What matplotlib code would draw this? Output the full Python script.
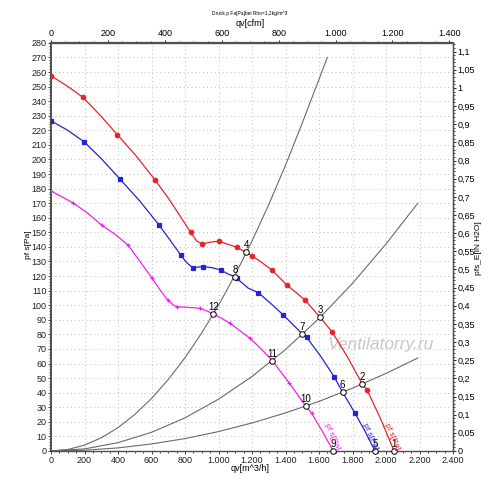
import matplotlib
matplotlib.use("Agg")
import matplotlib.pyplot as plt
from matplotlib.ticker import MultipleLocator, FixedLocator, FuncFormatter

plt.rcParams['font.family'] = ['Liberation Sans', 'DejaVu Sans']

# fan curves (q in m^3/h, p in Pa)
red_q = [0, 95, 189, 292, 396, 508, 621, 700, 766, 834, 870, 903, 949, 1003, 1053, 1108,
         1166, 1198, 1244, 1318, 1407, 1516, 1606, 1679, 1770, 1859, 1887, 1968, 2048]
red_p = [257.4, 250.5, 242.8, 230.5, 217, 202.5, 186, 173.5, 162, 150, 144, 142, 143.2, 144,
         141.9, 139.8, 136.2, 134, 130.5, 124.2, 114, 103.6, 91.8, 81.5, 64.5, 45.8, 41.9, 22, 0]
red_mq = [0, 189, 396, 621, 834, 903, 1003, 1108, 1198, 1318, 1407, 1516, 1679, 1887]
red_mp = [257.4, 242.8, 217, 186, 150, 142, 144, 139.8, 134, 124.2, 114, 103.6, 81.5, 41.9]

blue_q = [0, 100, 199, 305, 412, 530, 645, 710, 774, 810, 846, 905, 959, 1013, 1059, 1099,
          1108, 1178, 1238, 1312, 1387, 1500, 1526, 1610, 1690, 1741, 1813, 1875, 1934]
blue_p = [226.5, 220, 212, 200, 186.5, 171.5, 155, 144.8, 134.5, 129.2, 125.8, 126.5, 125.8,
          124.2, 121.3, 119.6, 118.5, 111.7, 108.6, 101.2, 93.3, 80.3, 78, 65, 51, 40.3, 26.3, 13.5, 0]
blue_mq = [0, 199, 412, 645, 774, 846, 905, 1013, 1108, 1238, 1387, 1526, 1690, 1813]
blue_mp = [226.5, 212, 186.5, 155, 134.5, 125.8, 126.5, 124.2, 118.5, 108.6, 93.3, 78, 51, 26.3]

mag_q = [0, 129, 215, 302, 385, 462, 531, 601, 651, 696, 730, 750, 810, 890, 930, 969, 1019,
         1069, 1128, 1188, 1255, 1321, 1423, 1520, 1556, 1620, 1685]
mag_p = [178.4, 170.4, 163.5, 155, 148.5, 141, 130, 119, 110.5, 103.6, 100.2, 99, 98.6, 97.9,
         96.1, 94, 91, 87.6, 82.5, 77.3, 70, 62, 46.5, 30.9, 25.9, 13.5, 0]
mag_mq = [0, 129, 302, 462, 601, 696, 750, 890, 1069, 1188, 1423, 1556]
mag_mp = [178.4, 170.4, 155, 141, 119, 103.6, 99, 97.9, 87.6, 77.3, 46.5, 25.9]

# system curves
sysA_q = [0, 100, 200, 300, 400, 500, 600, 700, 800, 900, 1000, 1100, 1200, 1300, 1400, 1500, 1650]
sysA_p = [0, 1, 4, 9, 16, 25, 36, 49, 64, 81, 100, 121, 144, 169, 196, 225, 270]
sysB_q = [0, 200, 400, 600, 800, 1000, 1200, 1400, 1600, 1800, 2000, 2190]
sysB_p = [0, 1.4, 5.7, 12.8, 22.7, 35.5, 51.1, 69.6, 90.9, 115, 142, 170]
sysC_p = [0, 0.5, 2.1, 4.8, 8.5, 13.3, 19.2, 26.1, 34, 43.1, 53.2, 63.8]

# operating points
op_q = [2048, 1859, 1606, 1166, 1934, 1741, 1500, 1099, 1685, 1520, 1321, 969]
op_p = [0, 45.8, 91.8, 136.2, 0, 40.3, 80.3, 119.6, 0, 30.9, 62, 94]
op_labels = ['1', '2', '3', '4', '5', '6', '7', '8', '9', '10', '11', '12']

cfm_ticks = [0, 200, 400, 600, 800, 1000, 1200, 1400]

RED = '#e8232b'
BLUE = '#2323d8'
MAG = '#ee22ee'
GRAY = '#6a6a6a'


def dotted_thousands(v, _):
    return f'{int(round(v)):,}'.replace(',', '.')


def comma_decimal(v, _):
    return (f'{v:.2f}'.rstrip('0').rstrip('.')).replace('.', ',')


fig = plt.figure(figsize=(5.0, 4.87), dpi=100)
ax = fig.add_axes([0.102, 0.074, 0.804, 0.838])
ax.set_xlim(0, 2400)
ax.set_ylim(0, 280)

for q, p in [(sysA_q, sysA_p), (sysB_q, sysB_p), (sysB_q, sysC_p)]:
    ax.plot(q, p, color=GRAY, lw=0.8, zorder=2)

for q, p, mq, mp, col, mk in [(red_q, red_p, red_mq, red_mp, RED, 'o'),
                              (blue_q, blue_p, blue_mq, blue_mp, BLUE, 's'),
                              (mag_q, mag_p, mag_mq, mag_mp, MAG, '+')]:
    ax.plot(q, p, color=col, lw=0.9, zorder=3)
    ax.plot(mq, mp, ls='none', marker=mk, ms=3.2, color=col, mew=0.9, zorder=4)

ax.plot(op_q, op_p, ls='none', marker='o', ms=4, mfc='white', mec='black',
        mew=0.7, zorder=5, clip_on=False)
for q, p, t in zip(op_q, op_p, op_labels):
    ax.annotate(t, (q, p), xytext=(0, 1.5), textcoords='offset points',
                ha='center', va='bottom', fontsize=7, zorder=6)

# curve labels near the bottom
for q, col in [(2036, RED), (1904, BLUE), (1678, MAG)]:
    ax.text(q, 10, 'pf s[Pa]', color=col, fontsize=6, rotation=-66,
            ha='center', va='center', zorder=6)

ax.text(0.82, 0.262, 'Ventilatorry.ru', transform=ax.transAxes, fontsize=12.5,
        style='italic', color='#c8c8c8', ha='center', va='center', zorder=1)

ax.xaxis.set_major_locator(MultipleLocator(200))
ax.xaxis.set_minor_locator(MultipleLocator(50))
ax.yaxis.set_major_locator(MultipleLocator(10))
ax.yaxis.set_minor_locator(MultipleLocator(2))
ax.xaxis.set_major_formatter(FuncFormatter(dotted_thousands))
ax.grid(True, which='major', color='#bdbdbd', ls=(0, (1, 3)), lw=0.7)
ax.tick_params(labelsize=6.5, length=2.5, width=0.6, colors='#202020', pad=0.8)
ax.tick_params(which='minor', length=1.5, width=0.5)

for s in ax.spines.values():
    s.set_color('#505050')
    s.set_linewidth(1.0)
ax.spines['top'].set_linewidth(1.6)
ax.spines['left'].set_linewidth(1.4)

top = ax.secondary_xaxis('top', functions=(lambda x: x / 1.699, lambda x: x * 1.699))
top.xaxis.set_major_locator(FixedLocator(cfm_ticks))
top.xaxis.set_minor_locator(FixedLocator(list(range(0, 1401, 50))))
top.xaxis.set_major_formatter(FuncFormatter(dotted_thousands))
top.tick_params(labelsize=6.5, length=2.5, width=0.6, pad=0.8)
top.tick_params(which='minor', length=1.5, width=0.5)

right = ax.secondary_yaxis('right', functions=(lambda y: y / 249.09, lambda y: y * 249.09))
right.yaxis.set_major_locator(FixedLocator([i * 0.05 for i in range(23)]))
right.yaxis.set_minor_locator(FixedLocator([i * 0.01 for i in range(113)]))
right.yaxis.set_major_formatter(FuncFormatter(comma_decimal))
right.tick_params(labelsize=6.5, length=2.5, width=0.6, pad=0.8)
right.tick_params(which='minor', length=1.5, width=0.5)

fig.text(0.5, 0.038, 'qv[m^3/h]', ha='center', va='center', fontsize=6.5)
fig.text(0.5, 0.951, 'qv[cfm]', ha='center', va='center', fontsize=6.5)
fig.text(0.5, 0.972, 'Druck p Fa[Pa]bei Rho=1,2kg/m^3', ha='center', va='center', fontsize=3.5)
fig.text(0.056, 0.497, 'pf s[Pa]', ha='center', va='center', fontsize=6, rotation=90)
fig.text(0.958, 0.49, 'pfs_E[IN H2O]', ha='center', va='center', fontsize=6, rotation=90)

fig.savefig('out.png', dpi=100)
